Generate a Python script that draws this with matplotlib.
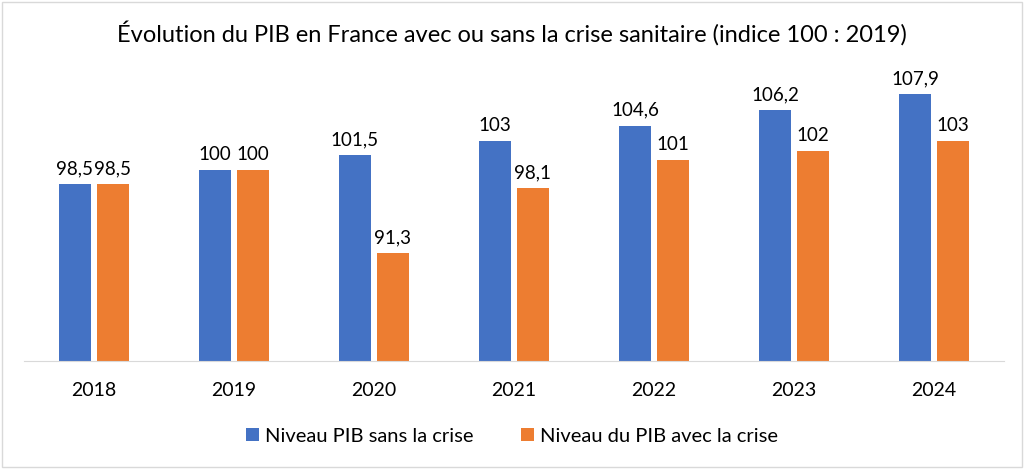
import numpy as np
import matplotlib.pyplot as plt
from matplotlib.patches import Rectangle

plt.rcParams['font.family'] = ['Lato', 'DejaVu Sans']

years = ["2018", "2019", "2020", "2021", "2022", "2023", "2024"]
sans_crise = [98.5, 100, 101.5, 103, 104.6, 106.2, 107.9]
avec_crise = [98.5, 100, 91.3, 98.1, 101, 102, 103]

blue = "#4472C4"
orange = "#ED7D31"

fig = plt.figure(figsize=(10.24, 4.69), dpi=100)
ax = fig.add_axes([0.0234, 0.230, 0.957, 0.612])

x = np.arange(len(years))
w = 0.23
off = 0.136
b1 = ax.bar(x - off, sans_crise, w, color=blue, label="Niveau PIB sans la crise")
b2 = ax.bar(x + off, avec_crise, w, color=orange, label="Niveau du PIB avec la crise")

def fmt(v):
    s = ("%g" % v).replace(".", ",")
    return s

for bars, vals in [(b1, sans_crise), (b2, avec_crise)]:
    for r, v in zip(bars, vals):
        ax.annotate(fmt(v), (r.get_x() + r.get_width() / 2, v), xytext=(0, 5),
                    textcoords="offset points", ha="center", va="bottom",
                    fontsize=13.5, color="#000000")

ax.set_ylim(80, 110)
ax.set_xlim(-0.5, len(years) - 0.5)
ax.set_xticks(x)
ax.set_xticklabels(years, fontsize=14)
ax.tick_params(axis="x", length=0, pad=15)
ax.set_yticks([])
for s in ["top", "right", "left"]:
    ax.spines[s].set_visible(False)
ax.spines["bottom"].set_color("#D9D9D9")

fig.text(0.5, 0.93, "Évolution du PIB en France avec ou sans la crise sanitaire (indice 100 : 2019)",
         ha="center", va="center", fontsize=17)

fig.legend(handles=[b1, b2], loc="center", bbox_to_anchor=(0.5, 0.07), ncol=2,
           frameon=False, fontsize=14.5, handlelength=0.6, handleheight=0.6,
           columnspacing=2.4, handletextpad=0.3)

fig.patches.append(Rectangle((0.002, 0.004), 0.996, 0.992, transform=fig.transFigure,
                             fill=False, edgecolor="#D9D9D9", linewidth=1))

fig.savefig("out.png", dpi=100)
